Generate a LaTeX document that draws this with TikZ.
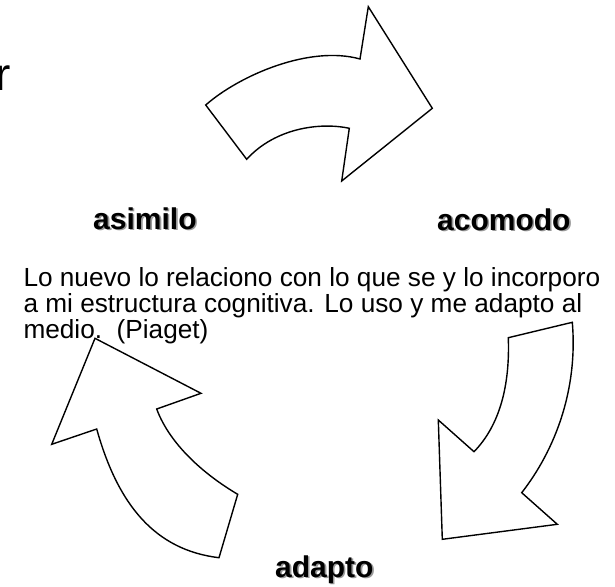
\documentclass[tikz,border=0pt]{standalone}
\usepackage{fontspec}
\setmainfont{Liberation Sans}
\begin{document}
\begin{tikzpicture}[x=1pt,y=-1pt,
  arrowshape/.style={draw=black,line width=1.4pt,fill=white,line join=miter},
  lbl/.style={font=\fontsize{30}{35}\selectfont\bfseries,inner sep=0pt,anchor=base west},
  shadowlbl/.style={lbl,text=black!40},
  para/.style={font=\fontsize{26.2}{26}\selectfont,inner sep=0pt,anchor=base west}]
\useasboundingbox[fill=white] (0,0) rectangle (615,586);

% top arrow (curving right)
\draw[arrowshape] (205.7,105) .. controls (240,75) and (310,45) .. (360,59)
  -- (368.3,6.7) -- (432.3,108.3) -- (341.7,181) -- (349.3,128.3)
  .. controls (320,122) and (275,128) .. (246.7,159.3) -- cycle;

% bottom-right arrow (curving down)
\draw[arrowshape] (572.3,322.3) -- (508.3,337.7)
  .. controls (510,385) and (500,425) .. (474,451.7)
  -- (438.3,420) -- (442.3,539.3) -- (557.3,524.3) -- (521.7,492.7)
  .. controls (555,450) and (578,390) .. (572.3,322.3) -- cycle;

% bottom-left arrow (curving up)
\draw[arrowshape] (219,557.7) -- (237.7,494.3)
  .. controls (205,475) and (170,445) .. (156.7,409)
  -- (201,393.3) -- (95,338.3) -- (51.7,444.3) -- (96.7,429)
  .. controls (118,505) and (155,550) .. (219,557.7) -- cycle;

% cut-off letter at top left
\node[font=\fontsize{46}{50}\selectfont,inner sep=0pt,anchor=base east] (rfrag) at (11,90) {r};

% bold labels with shadows
\node[shadowlbl] (asimiloS) at (94.6,230.6) {asimilo};
\node[lbl] (asimilo) at (93,229) {asimilo};
\node[shadowlbl] (acomodoS) at (438.6,231.6) {acomodo};
\node[lbl] (acomodo) at (437,230) {acomodo};
\node[shadowlbl] (adaptoS) at (276.6,578.6) {adapto};
\node[lbl] (adapto) at (275,577) {adapto};

% paragraph
\node[para] (p1) at (23.3,286.7) {Lo nuevo lo relaciono con lo que se y lo incorporo};
\node[para] (p2) at (23.3,312.3) {a mi estructura cognitiva. Lo uso y me adapto al};
\node[para] (p3) at (23.3,338.3) {medio.\ \ (Piaget)};
\end{tikzpicture}
\end{document}
